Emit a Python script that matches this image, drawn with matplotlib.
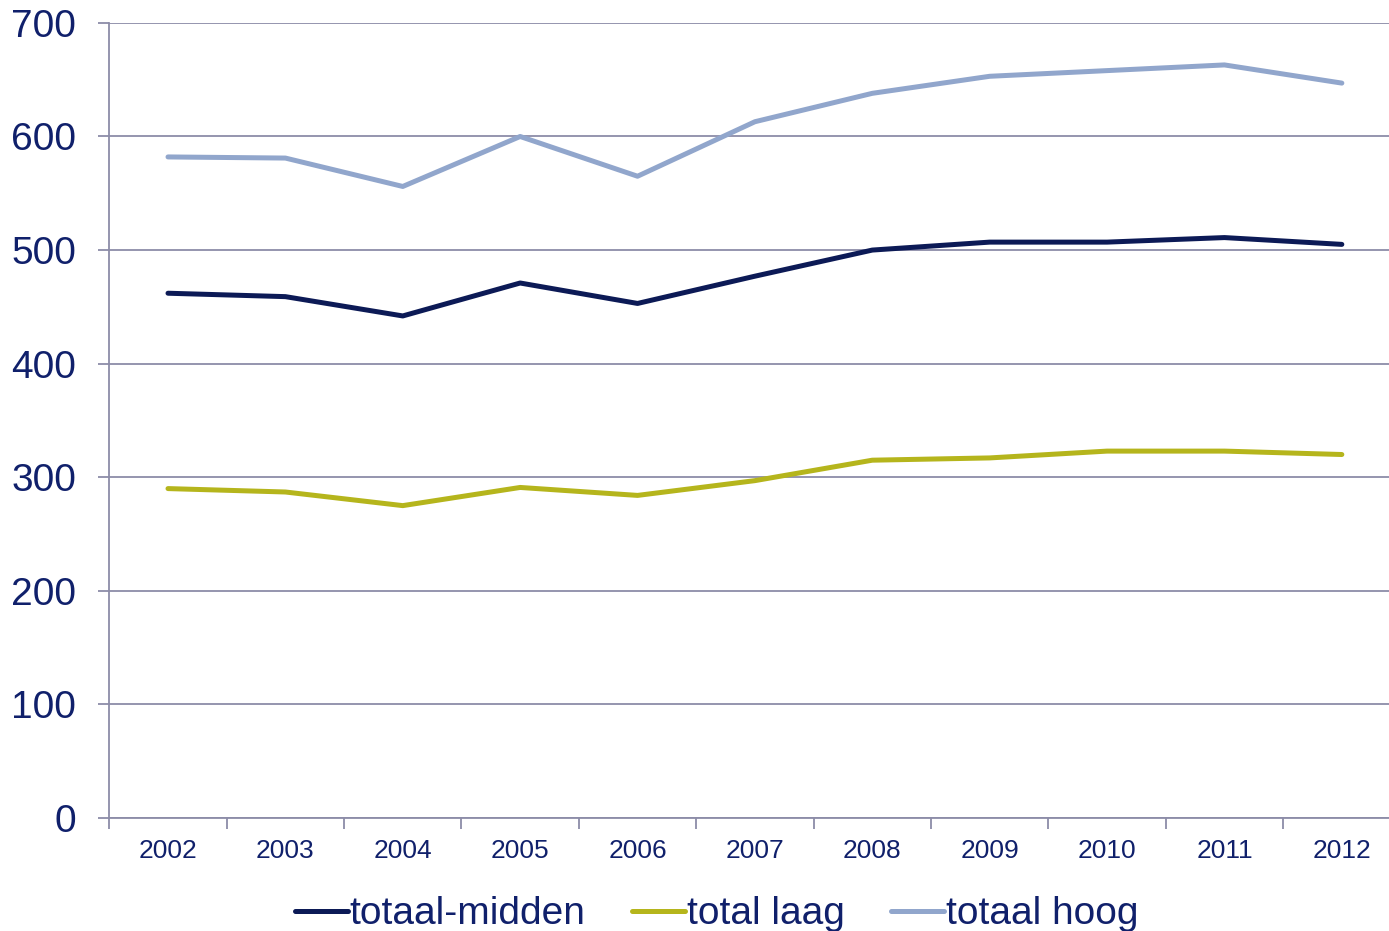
import matplotlib.pyplot as plt

plt.rcParams['font.family'] = ['Liberation Sans', 'DejaVu Sans']

years = ['2002', '2003', '2004', '2005', '2006', '2007', '2008', '2009', '2010', '2011', '2012']
totaal_midden = [462, 459, 442, 471, 453, 477, 500, 507, 507, 511, 505]
total_laag = [290, 287, 275, 291, 284, 297, 315, 317, 323, 323, 320]
totaal_hoog = [582, 581, 556, 600, 565, 613, 638, 653, 658, 663, 647]

text_col = '#10206b'
axis_col = '#8c8ca8'

fig = plt.figure(figsize=(13.89, 9.31), dpi=100)
ax = fig.add_axes([0.0787, 0.1214, 0.9296, 0.854])

x = range(len(years))
ax.plot(x, totaal_midden, color='#0c1a56', lw=3.6, label='totaal-midden', solid_capstyle='round')
ax.plot(x, total_laag, color='#b5b51c', lw=3.6, label='total laag', solid_capstyle='round')
ax.plot(x, totaal_hoog, color='#91a6cc', lw=3.6, label='totaal hoog', solid_capstyle='round')

ax.set_xlim(-0.5, len(years) - 0.5)
ax.set_ylim(0, 700)
ax.set_yticks(range(0, 701, 100))
ax.set_xticks([i - 0.5 for i in range(len(years) + 1)])
ax.set_xticklabels([])
ax.set_xticks(list(x), minor=True)
ax.set_xticklabels(years, minor=True)
ax.tick_params(axis='x', which='major', length=8, width=1.3, color=axis_col, direction='out')
ax.tick_params(axis='x', which='minor', length=0, labelsize=19, labelcolor=text_col, pad=15)
ax.tick_params(axis='y', length=8, width=1.3, color=axis_col, labelsize=28, labelcolor=text_col, pad=16)

ax.grid(axis='y', color='#8c8ca8', lw=1.3)
ax.set_axisbelow(True)
for s in ['top', 'right']:
    ax.spines[s].set_visible(False)
for s in ['left', 'bottom']:
    ax.spines[s].set_color(axis_col)
    ax.spines[s].set_linewidth(1.3)

leg = fig.legend(loc='center', bbox_to_anchor=(0.516, 0.018), ncol=3, frameon=False,
                 fontsize=28, handlelength=1.36, handletextpad=0.05, columnspacing=1.2)
for t in leg.get_texts():
    t.set_color(text_col)

fig.savefig('out.png', dpi=100)
